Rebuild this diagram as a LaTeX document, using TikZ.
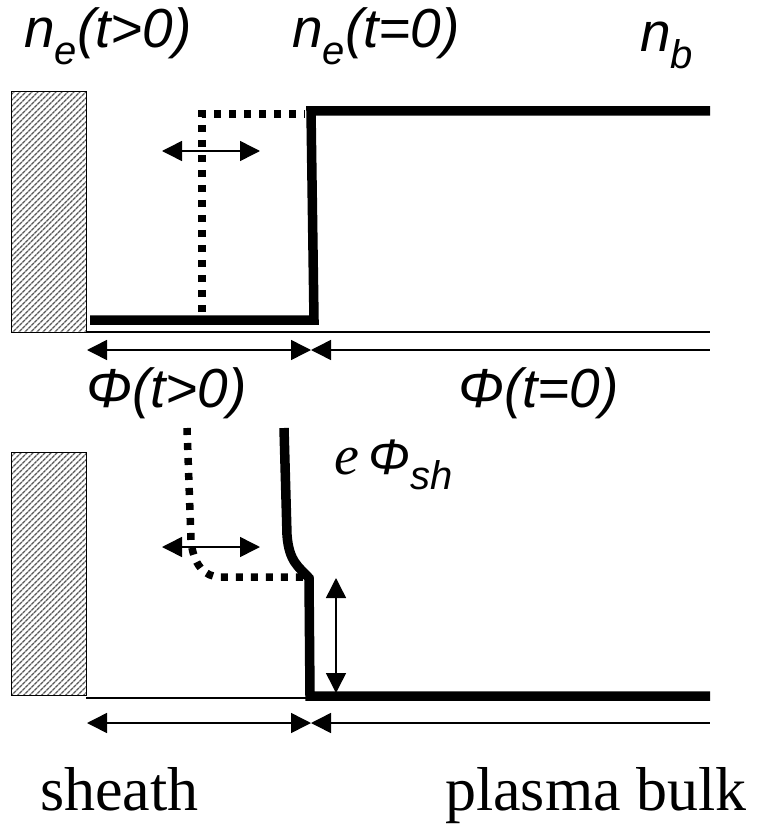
\documentclass[tikz,border=0pt]{standalone}
\usepackage{fontspec}
\setmainfont{Liberation Serif}
\setsansfont{Liberation Sans}
\usetikzlibrary{arrows.meta,patterns.meta}
\newcommand{\lowsub}[1]{\raisebox{-0.3em}{\fontsize{40}{40}\selectfont #1}}
\tikzset{
  wall/.style={draw=black,line width=1pt,pattern={Lines[angle=45,distance=4pt,line width=1.4pt]},pattern color=black!65},
  prof/.style={draw=black,line width=9.5pt},
  profdot/.style={draw=black,line width=7.5pt,dash pattern=on 7pt off 8pt},
  base/.style={draw=black,line width=1.5pt},
  dim/.style={base,{Triangle[length=20pt,width=20pt]}-{Triangle[length=20pt,width=20pt]}},
  dimleft/.style={base,{Triangle[length=20pt,width=20pt]}-},
  lab/.style={font=\sffamily\itshape\fontsize{55}{60}\selectfont,inner sep=0pt,anchor=base west},
  word/.style={font=\rmfamily\fontsize{62}{66}\selectfont,inner sep=0pt,anchor=base west},
}
\begin{document}
\begin{tikzpicture}[x=1pt,y=-1pt]
\useasboundingbox (0,0) rectangle (761,824);
% density profile
\draw[wall] (11,92) rectangle (86,332);
\draw[base] (86,332) -- (710,332);
\coordinate (na) at (90,320);
\coordinate (nb) at (314,320);
\coordinate (nc) at (311,111);
\coordinate (nd) at (710,111);
\draw[prof] (na) -- (nb) -- (nc) -- (nd);
\coordinate (ma) at (202,312);
\coordinate (mb) at (202,114);
\coordinate (mc) at (305,114);
\draw[profdot] (ma) -- (mb) -- (mc);
\coordinate (sa) at (162,151);
\coordinate (sb) at (260,151);
\draw[dim] (sa) -- (sb);
\coordinate (da) at (87,350);
\coordinate (db) at (311,350);
\coordinate (dc) at (710,350);
\draw[dim] (da) -- (db);
\draw[dimleft] (db) -- (dc);
\node[lab] (nlt) at (24,48) {n\lowsub{e}(t>0)};
\node[lab] (nle) at (292,48) {n\lowsub{e}(t=0)};
\node[lab] (nlb) at (640,52) {n\lowsub{b}};
% potential profile
\node[lab] (plt) at (86,407) {Φ(t>0)};
\node[lab] (ple) at (458,407) {Φ(t=0)};
\draw[wall] (11,452) rectangle (86,695);
\draw[base] (86,698) -- (310,698);
\coordinate (pa) at (284,428);
\coordinate (pb) at (287,535);
\coordinate (pc) at (309,578);
\coordinate (pd) at (310,696);
\coordinate (pe) at (710,696);
\draw[prof] (pa) -- (pb) .. controls (289,562) and (299,567) .. (pc) -- (pd) -- (pe);
\coordinate (qa) at (187,428);
\coordinate (qb) at (191,540);
\coordinate (qc) at (220,577);
\coordinate (qd) at (305,577);
\draw[profdot] (qa) -- (qb) .. controls (193,565) and (205,577) .. (qc) -- (qd);
\coordinate (ta) at (162,547);
\coordinate (tb) at (260,547);
\draw[dim] (ta) -- (tb);
\coordinate (ha) at (336,578);
\coordinate (hb) at (336,693);
\draw[dim] (ha) -- (hb);
\node[inner sep=0pt,anchor=base west] (esh) at (334,474)
  {\fontsize{56}{58}\selectfont\itshape e\,\sffamily\fontsize{50}{52}\selectfont Φ\lowsub{sh}};
\coordinate (ea) at (87,723);
\coordinate (eb) at (311,723);
\coordinate (ec) at (710,723);
\draw[dim] (ea) -- (eb);
\draw[dimleft] (eb) -- (ec);
\node[word] (wsh) at (40,810) {sheath};
\node[word] (wpb) at (445,810) {plasma bulk};
\end{tikzpicture}
\end{document}
